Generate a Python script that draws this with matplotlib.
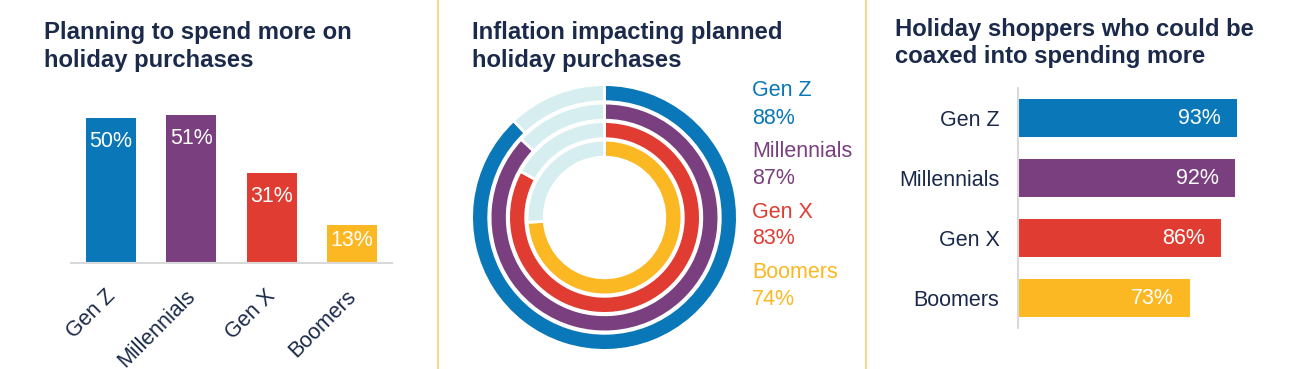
import matplotlib
matplotlib.use("Agg")
import matplotlib.pyplot as plt
from matplotlib.lines import Line2D

plt.rcParams['font.family'] = ['Liberation Sans', 'DejaVu Sans']

# ---- data ----
generations = ["Gen Z", "Millennials", "Gen X", "Boomers"]
plan_more = [50, 51, 31, 13]          # Planning to spend more on holiday purchases (%)
inflation_impact = [88, 87, 83, 74]   # Inflation impacting planned holiday purchases (%)
coaxed_more = [93, 92, 86, 73]        # Could be coaxed into spending more (%)

titles = ["Planning to spend more on\nholiday purchases",
          "Inflation impacting planned\nholiday purchases",
          "Holiday shoppers who could be\ncoaxed into spending more"]

# ---- style ----
colors = ["#0a77b8", "#7a3f7e", "#e03c31", "#fbb823"]
light = "#d6eef0"
navy = "#1b2a4a"
grey = "#d9d9d9"
gold = "#f6d98e"

W, H = 1290, 369
fig = plt.figure(figsize=(W / 100, H / 100), dpi=100)
fig.patch.set_facecolor("white")

def fx(x):
    return x / W

def fy(y):
    return 1 - y / H

# titles (y = baseline of last line, in pixels from top)
title_pos = [(43.7, 66.7), (471.7, 66.7), (895, 63.5)]
for t, (x, y) in zip(titles, title_pos):
    fig.text(fx(x), fy(y), t, fontsize=17.2, fontweight="bold", color=navy,
             ha="left", va="baseline", linespacing=1.25)

# dividers
for x in (437.5, 866):
    fig.add_artist(Line2D([fx(x), fx(x)], [0, 1], color=gold, lw=1.5))

# ---- panel 1: vertical bars ----
px_per_unit = 2.9
ymax1 = 55
ax1 = fig.add_axes([fx(71), fy(263), 321 / W, ymax1 * px_per_unit / H])
xs = range(len(generations))
ax1.bar(xs, plan_more, width=0.625, color=colors)
ax1.set_xlim(-0.5, 3.5)
ax1.set_ylim(0, ymax1)
for s in ("top", "right", "left"):
    ax1.spines[s].set_visible(False)
ax1.spines["bottom"].set_color(grey)
ax1.spines["bottom"].set_linewidth(1.5)
ax1.set_xticks([])
ax1.set_yticks([])
ax1.patch.set_alpha(0)
for i, (g, v) in enumerate(zip(generations, plan_more)):
    ly = max(v - 8, v / 2 + 1.2)
    ax1.text(i, ly, f"{v}%", color="white", fontsize=15.5, ha="center", va="center")
    ax1.annotate(g, xy=(i, 0), xytext=(1, -30), textcoords="offset pixels",
                 rotation=45, rotation_mode="anchor", ha="right", va="center",
                 fontsize=15.5, color=navy, annotation_clip=False)

# ---- panel 2: concentric donut rings ----
cx, cy, half = 604.5, 217.5, 140
ax2 = fig.add_axes([fx(cx - half), fy(cy + half), 2 * half / W, 2 * half / H])
outer_r = [132.9, 114.4, 95.9, 77.4]
ring_w = 17.1
for r, v, c in zip(outer_r, inflation_impact, colors):
    ax2.pie([v, 100 - v], radius=r, startangle=90, counterclock=False,
            colors=[c, light],
            wedgeprops=dict(width=ring_w, edgecolor="white", linewidth=2))
ax2.set_xlim(-half, half)
ax2.set_ylim(-half, half)
ax2.set_aspect("equal")
ax2.axis("off")
for i, (g, v, c) in enumerate(zip(generations, inflation_impact, colors)):
    y0 = cy - (91 + 60.5 * i)
    ax2.text(752.3 - cx, y0, g, color=c, fontsize=15.5, ha="left", va="center", clip_on=False)
    ax2.text(752.3 - cx, y0 - 27, f"{v}%", color=c, fontsize=15.5, ha="left", va="center", clip_on=False)

# ---- panel 3: horizontal bars ----
px_per_unit3 = 2.362
ax3 = fig.add_axes([fx(1017.5), fy(328), 100 * px_per_unit3 / W, 240 / H])
ax3.barh(range(len(generations)), coaxed_more, height=0.633, color=colors)
ax3.set_xlim(0, 100)
ax3.set_ylim(3.5, -0.5)
for s in ("top", "right", "bottom"):
    ax3.spines[s].set_visible(False)
ax3.spines["left"].set_color(grey)
ax3.spines["left"].set_linewidth(1.5)
ax3.set_xticks([])
ax3.set_yticks(range(len(generations)))
ax3.set_yticklabels(generations)
ax3.tick_params(axis="y", length=0, pad=13, labelsize=15.5, labelcolor=navy)
ax3.patch.set_alpha(0)
for i, v in enumerate(coaxed_more):
    ax3.annotate(f"{v}%", xy=(v, i), xytext=(-16, 0), textcoords="offset pixels",
                 ha="right", va="center", color="white", fontsize=15.5)

fig.savefig("out.png", dpi=100, facecolor="white")
